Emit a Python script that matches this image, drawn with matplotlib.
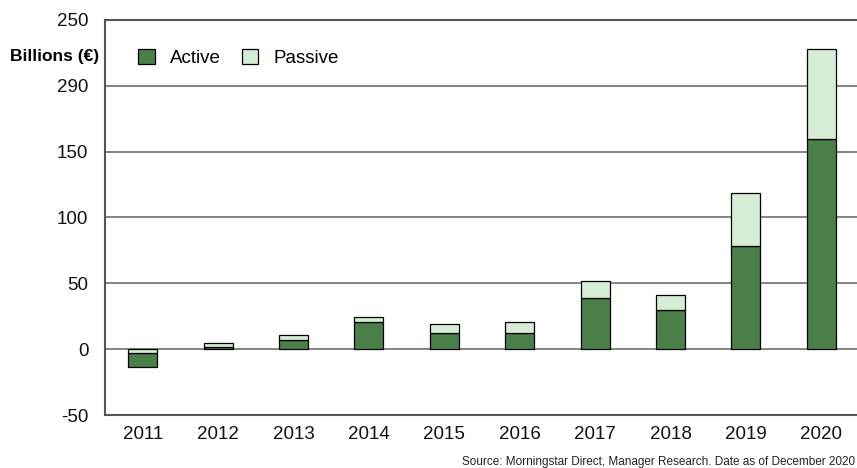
import numpy as np
import matplotlib.pyplot as plt

plt.rcParams['font.family'] = ['Liberation Sans', 'DejaVu Sans']

years = ['2011', '2012', '2013', '2014', '2015', '2016', '2017', '2018', '2019', '2020']
active = [-10.5, 2, 7, 20.5, 12, 12, 39, 29.5, 78.5, 159.5]
passive = [-3, 2.5, 4, 4, 7, 9, 13, 11.5, 40, 68.5]
ytick_vals = [250, 200, 150, 100, 50, 0, -50]
ytick_labels = ['250', '290', '150', '100', '50', '0', '-50']

dark = '#4a7f4a'
light = '#d5ecd5'

act = np.array(active)
pas = np.array(passive)
x = np.arange(len(years))

# negative flows: passive sits next to zero, active below it
act_bottom = np.where(act < 0, np.minimum(pas, 0), 0)
pas_bottom = np.where(pas >= 0, np.maximum(act, 0), 0)

fig = plt.figure(figsize=(8.57, 4.68), dpi=100)
ax = fig.add_axes([105 / 857, 53 / 468, 754 / 857, 395 / 468])

for v in ytick_vals[1:-1]:
    ax.axhline(v, color='#7a7a7a', lw=1.3, zorder=0)

w = 0.385
ax.bar(x, act, w, bottom=act_bottom, color=dark, edgecolor='black', lw=0.9, label='Active', zorder=2)
ax.bar(x, pas, w, bottom=pas_bottom, color=light, edgecolor='black', lw=0.9, label='Passive', zorder=2)

ax.set_xlim(-0.5, len(years) - 0.5)
ax.set_ylim(-50, 250)
ax.set_yticks(ytick_vals)
ax.set_yticklabels(ytick_labels)
ax.set_xticks(x)
ax.set_xticklabels(years)
ax.tick_params(length=0, labelsize=13.5, colors='#111111')
ax.tick_params(axis='y', pad=12)
ax.tick_params(axis='x', pad=8)

for s in ['left', 'top', 'bottom']:
    ax.spines[s].set_color('#555555')
    ax.spines[s].set_linewidth(1.5)
ax.spines['right'].set_visible(False)

leg = ax.legend(loc='upper left', bbox_to_anchor=(0.034, 0.946), borderaxespad=0, ncol=2,
                frameon=False, fontsize=13.5, handlelength=0.9, handleheight=0.9,
                columnspacing=1.1, handletextpad=0.8)

fig.text(10 / 857, 1 - 56 / 468, 'Billions (€)', fontsize=12.5, fontweight='bold', va='center', ha='left')
fig.text(855 / 857, 1 - 462 / 468, 'Source: Morningstar Direct, Manager Research. Date as of December 2020',
         fontsize=8.5, va='center', ha='right', color='#222222')

fig.savefig('out.png', dpi=100)
